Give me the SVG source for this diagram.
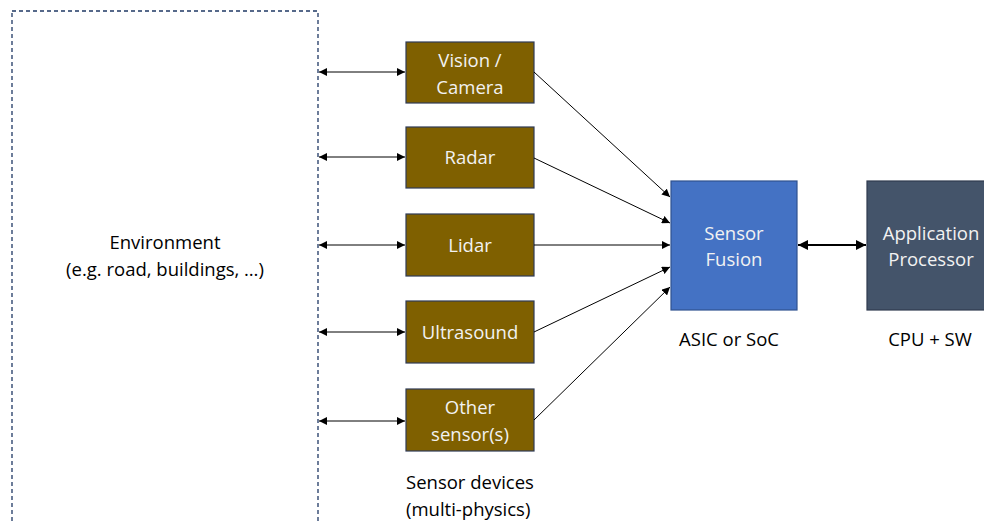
<svg xmlns="http://www.w3.org/2000/svg" width="984" height="523" viewBox="0 0 984 523">
  <style>
    text { font-family: "Open Sans", "Noto Sans", "Liberation Sans", sans-serif; font-size: 18.5px; }
    .lbl { fill: #000000; text-anchor: middle; }
    .in { fill: #f2f2f2; text-anchor: middle; }
    .sensor { fill: #7f6000; stroke: #2f3b55; stroke-width: 1.2; }
    .link { stroke: #000000; stroke-width: 1; fill: none; }
  </style>
  <defs>
    <marker id="ah" viewBox="0 0 10 10" refX="10" refY="5" markerWidth="8" markerHeight="8" markerUnits="userSpaceOnUse" orient="auto-start-reverse">
      <path d="M0,0 L10,5 L0,10 z" fill="#000000"/>
    </marker>
    <marker id="ahb" viewBox="0 0 10 10" refX="10" refY="5" markerWidth="5" markerHeight="5" orient="auto-start-reverse">
      <path d="M0,0 L10,5 L0,10 z" fill="#000000"/>
    </marker>
  </defs>

  <g id="environment">
    <rect x="12" y="11" width="306" height="530" fill="none" stroke="#1f3864" stroke-width="1.3" stroke-dasharray="4,3"/>
    <text class="lbl" x="165" y="249">Environment</text>
    <text class="lbl" x="165" y="276">(e.g. road, buildings, …)</text>
  </g>

  <g id="vision">
    <rect class="sensor" x="406" y="42" width="128" height="61"/>
    <text class="in" x="470" y="67">Vision /</text>
    <text class="in" x="470" y="94">Camera</text>
  </g>
  <g id="radar">
    <rect class="sensor" x="406" y="127" width="128" height="61"/>
    <text class="in" x="470" y="164">Radar</text>
  </g>
  <g id="lidar">
    <rect class="sensor" x="406" y="214" width="128" height="62"/>
    <text class="in" x="470" y="252">Lidar</text>
  </g>
  <g id="ultrasound">
    <rect class="sensor" x="406" y="301" width="128" height="62"/>
    <text class="in" x="470" y="339">Ultrasound</text>
  </g>
  <g id="other">
    <rect class="sensor" x="406" y="389" width="128" height="62"/>
    <text class="in" x="470" y="414">Other</text>
    <text class="in" x="470" y="441">sensor(s)</text>
  </g>
  <g id="sensor-devices-label">
    <text x="406" y="489">Sensor devices</text>
    <text x="406" y="516">(multi-physics)</text>
  </g>

  <g id="fusion">
    <rect x="671" y="181" width="126" height="129" fill="#4472c4" stroke="#2f528f" stroke-width="1.2"/>
    <text class="in" x="734" y="240">Sensor</text>
    <text class="in" x="734" y="266">Fusion</text>
    <text class="lbl" x="729" y="346">ASIC or SoC</text>
  </g>

  <g id="processor">
    <rect x="867" y="181" width="130" height="129" fill="#44546a" stroke="#2f3b4f" stroke-width="1.2"/>
    <text class="in" x="931" y="240">Application</text>
    <text class="in" x="931" y="266">Processor</text>
    <text class="lbl" x="930" y="346">CPU + SW</text>
  </g>

  <g id="connectors">
    <line class="link" x1="319" y1="72" x2="405" y2="72" marker-start="url(#ah)" marker-end="url(#ah)"/>
    <line class="link" x1="319" y1="157" x2="405" y2="157" marker-start="url(#ah)" marker-end="url(#ah)"/>
    <line class="link" x1="319" y1="245" x2="405" y2="245" marker-start="url(#ah)" marker-end="url(#ah)"/>
    <line class="link" x1="319" y1="332" x2="405" y2="332" marker-start="url(#ah)" marker-end="url(#ah)"/>
    <line class="link" x1="319" y1="421" x2="405" y2="421" marker-start="url(#ah)" marker-end="url(#ah)"/>

    <line class="link" x1="534" y1="72" x2="670" y2="197" marker-end="url(#ah)"/>
    <line class="link" x1="534" y1="158" x2="670" y2="223" marker-end="url(#ah)"/>
    <line class="link" x1="534" y1="245" x2="670" y2="245" marker-end="url(#ah)"/>
    <line class="link" x1="534" y1="332" x2="670" y2="267" marker-end="url(#ah)"/>
    <line class="link" x1="534" y1="420" x2="670" y2="287" marker-end="url(#ah)"/>

    <line x1="798" y1="245" x2="866" y2="245" stroke="#000000" stroke-width="2" marker-start="url(#ahb)" marker-end="url(#ahb)"/>
  </g>
</svg>
